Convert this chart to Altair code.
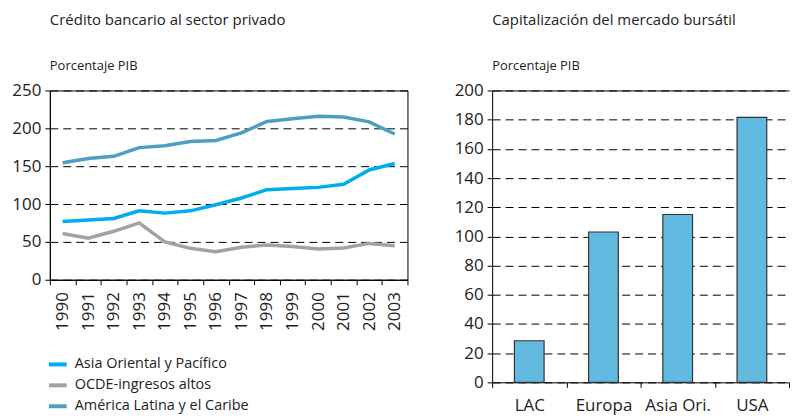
import altair as alt
import pandas as pd

# ---- data: bank credit to private sector (% GDP) ----
years = [str(y) for y in range(1990, 2004)]
asia = [77, 79, 81, 91, 88, 91, 99, 108, 119, 120.5, 122, 126, 145, 153.5]
ocde = [61, 55, 64, 75, 50, 41.5, 37, 43, 46, 44, 40.5, 42, 48, 45]
latam = [154.5, 160, 163, 174.5, 177, 182.5, 184, 194, 209, 212.5, 216, 215, 208.5, 192.5]
series_names = ["Asia Oriental y Pacífico", "OCDE-ingresos altos", "América Latina y el Caribe"]
series_colors = ["#00adef", "#a2a2a2", "#4d9fc2"]

# ---- data: stock market capitalisation (% GDP) ----
regions = ["LAC", "Europa", "Asia Ori.", "USA"]
market_cap = [28.5, 103, 115, 181.5]

FONT = "Open Sans"
TXT = "#222222"

rows = []
for name, vals in zip(series_names, [asia, ocde, latam]):
    for yr, v in zip(years, vals):
        rows.append({"year": yr, "value": v, "series": name})
line_df = pd.DataFrame(rows)
bar_df = pd.DataFrame({"region": regions, "value": market_cap})

axis_common = dict(
    labelFont=FONT, labelFontSize=17, labelColor=TXT,
    domainColor="black", tickColor="black", tickSize=5,
    title=None,
)


def titles(text):
    return alt.TitleParams(
        text=text, subtitle="Porcentaje PIB",
        anchor="start", frame="group", font=FONT, subtitleFont=FONT,
        fontSize=15, subtitleFontSize=13, fontWeight="normal",
        color=TXT, subtitleColor=TXT, subtitlePadding=32, offset=9,
    )


line = alt.Chart(line_df).mark_line(strokeWidth=3.5).encode(
    x=alt.X(
        "year:O", bandPosition=0.5,
        scale=alt.Scale(type="band", paddingInner=0, paddingOuter=0),
        axis=alt.Axis(labelAngle=-90, tickBand="extent", labelPadding=7,
                      grid=False, **axis_common),
    ),
    y=alt.Y(
        "value:Q", scale=alt.Scale(domain=[0, 250], nice=False),
        axis=alt.Axis(values=[0, 50, 100, 150, 200, 250], labelPadding=4,
                      grid=True, gridColor="black", gridDash=[8, 5], gridWidth=1,
                      **axis_common),
    ),
    color=alt.Color(
        "series:N",
        scale=alt.Scale(domain=series_names, range=series_colors),
        legend=alt.Legend(
            title=None, orient="none", legendX=-3, legendY=264,
            symbolType="stroke", symbolStrokeWidth=4, symbolSize=320,
            labelFont=FONT, labelFontSize=14.5, labelColor=TXT, labelLimit=0,
            labelOffset=6, rowPadding=2, direction="vertical",
        ),
    ),
).properties(
    width=359, height=190,
    view=alt.ViewBackground(stroke="black", strokeWidth=1),
    title=titles("Crédito bancario al sector privado"),
)

bar_x_scale = alt.Scale(paddingInner=0, paddingOuter=0)
bars = alt.Chart(bar_df).mark_bar(
    width=alt.RelativeBandSize(0.4), fill="#62bae0", stroke="#333333", strokeWidth=1.2
).encode(
    x=alt.X("region:N", sort=regions, scale=bar_x_scale,
            axis=alt.Axis(labelAngle=0, tickBand="extent", labelPadding=10,
                          grid=False, **axis_common)),
    y=alt.Y("value:Q", scale=alt.Scale(domain=[0, 200], nice=False),
            axis=alt.Axis(values=list(range(0, 201, 20)), labelPadding=4,
                          grid=True, gridColor="black", gridDash=[8, 5], gridWidth=1,
                          **axis_common)),
)
top_line = alt.Chart(bar_df).mark_bar(opacity=0).encode(
    x=alt.X("region:N", sort=regions, scale=bar_x_scale,
            axis=alt.Axis(orient="top", labels=False, ticks=False, grid=False,
                          domainColor="black", title=None)),
)
right = alt.layer(bars, top_line).resolve_axis(x="independent").properties(
    width=298, height=293,
    view=alt.ViewBackground(stroke=None),
    title=titles("Capitalización del mercado bursátil"),
)

chart = alt.hconcat(line, right, spacing=45).properties(
    padding={"left": 3, "top": 3, "right": 0, "bottom": 0}
).configure(font=FONT).configure_view(stroke=None)

chart.save("out.html", embed_options={"renderer": "svg", "actions": False})
